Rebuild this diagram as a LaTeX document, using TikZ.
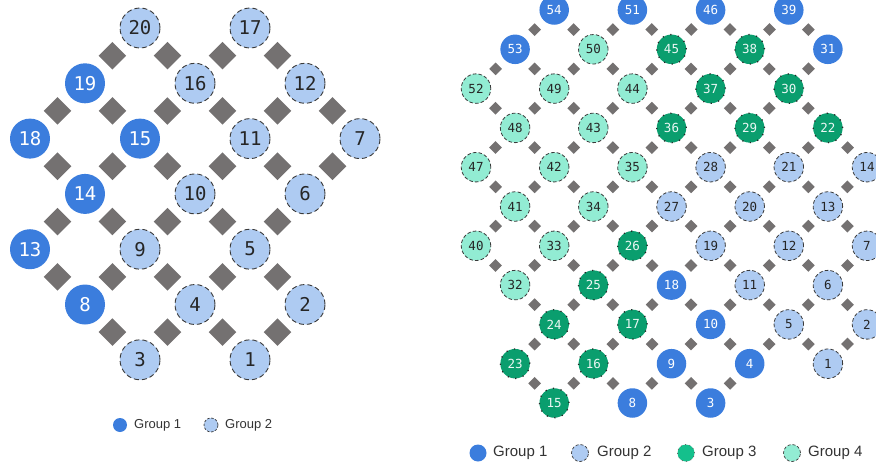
\documentclass[tikz,border=0pt]{standalone}
\usepackage{fontspec}
\setmainfont{Liberation Sans}
\newfontfamily\numfont{DejaVu Sans Mono}
\definecolor{gA}{HTML}{3B7DDD}
\definecolor{gB}{HTML}{AECBF2}
\definecolor{gC}{HTML}{0A9E6E}
\definecolor{gCleg}{HTML}{14C08C}
\definecolor{gD}{HTML}{92ECD3}
\definecolor{dia}{HTML}{747171}
\definecolor{rim}{HTML}{3A3A3A}
\definecolor{txt}{HTML}{333333}
\begin{document}
\begin{tikzpicture}[x=1pt,y=-1pt,
  Lnode/.style={circle, minimum size=40pt, inner sep=0pt, font=\numfont\fontsize{19}{19}\selectfont},
  LgA/.style={Lnode, fill=gA, text=white},
  LgB/.style={Lnode, fill=gB, draw=rim, dash pattern=on 5pt off 3pt, line width=0.9pt, text=black!85},
  Ldia/.style={fill=dia, minimum size=19.5pt, inner sep=0pt, rotate=45},
  Rnode/.style={circle, minimum size=29.5pt, inner sep=0pt, font=\numfont\fontsize{12.5}{12.5}\selectfont},
  RgA/.style={Rnode, fill=gA, text=white},
  RgB/.style={Rnode, fill=gB, draw=rim, dash pattern=on 3.5pt off 2.2pt, line width=0.8pt, text=black!85},
  RgC/.style={Rnode, fill=gC, draw=black!85, dash pattern=on 1.2pt off 6.52pt, line width=1.3pt, text=white!92!gC},
  RgD/.style={Rnode, fill=gD, draw=rim, dash pattern=on 3.5pt off 2.2pt, line width=0.8pt, text=black!85},
  Rdia/.style={fill=dia, minimum size=9pt, inner sep=0pt, rotate=45},
  legtxt/.style={anchor=west, inner sep=0pt, text=txt},
]
\useasboundingbox (0,0) rectangle (876,463);
\clip (0,0) rectangle (876,463);
% ---------- left lattice ----------
\foreach \a/\b/\n/\g in {
  2/0/20/LgB, 4/0/17/LgB,
  1/1/19/LgA, 3/1/16/LgB, 5/1/12/LgB,
  0/2/18/LgA, 2/2/15/LgA, 4/2/11/LgB, 6/2/7/LgB,
  1/3/14/LgA, 3/3/10/LgB, 5/3/6/LgB,
  0/4/13/LgA, 2/4/9/LgB, 4/4/5/LgB,
  1/5/8/LgA, 3/5/4/LgB, 5/5/2/LgB,
  2/6/3/LgB, 4/6/1/LgB}
  \node[\g] (L\n) at ({30+55*\a},{28+55.3*\b}) {\n};
\foreach \p/\q in {
  20/19, 20/16, 17/16, 17/12,
  19/18, 19/15, 16/15, 16/11, 12/11, 12/7,
  18/14, 15/14, 15/10, 11/10, 11/6, 7/6,
  14/13, 14/9, 10/9, 10/5, 6/5,
  13/8, 9/8, 9/4, 5/4, 5/2,
  8/3, 4/3, 4/1, 2/1}
  \path (L\p) -- node[Ldia]{} (L\q);
% ---------- right lattice ----------
\foreach \a/\b/\n/\g in {
  2/0/54/RgA, 4/0/51/RgA, 6/0/46/RgA, 8/0/39/RgA,
  1/1/53/RgA, 3/1/50/RgD, 5/1/45/RgC, 7/1/38/RgC, 9/1/31/RgA,
  0/2/52/RgD, 2/2/49/RgD, 4/2/44/RgD, 6/2/37/RgC, 8/2/30/RgC,
  1/3/48/RgD, 3/3/43/RgD, 5/3/36/RgC, 7/3/29/RgC, 9/3/22/RgC,
  0/4/47/RgD, 2/4/42/RgD, 4/4/35/RgD, 6/4/28/RgB, 8/4/21/RgB, 10/4/14/RgB,
  1/5/41/RgD, 3/5/34/RgD, 5/5/27/RgB, 7/5/20/RgB, 9/5/13/RgB,
  0/6/40/RgD, 2/6/33/RgD, 4/6/26/RgC, 6/6/19/RgB, 8/6/12/RgB, 10/6/7/RgB,
  1/7/32/RgD, 3/7/25/RgC, 5/7/18/RgA, 7/7/11/RgB, 9/7/6/RgB,
  2/8/24/RgC, 4/8/17/RgC, 6/8/10/RgA, 8/8/5/RgB, 10/8/2/RgB,
  1/9/23/RgC, 3/9/16/RgC, 5/9/9/RgA, 7/9/4/RgA, 9/9/1/RgB,
  2/10/15/RgC, 4/10/8/RgA, 6/10/3/RgA}
  \node[\g] (R\n) at ({476+39.1*\a},{10+39.3*\b}) {\n};
\foreach \p/\q in {
  54/53, 54/50, 51/50, 51/45, 46/45, 46/38, 39/38, 39/31,
  53/52, 53/49, 50/49, 50/44, 45/44, 45/37, 38/37, 38/30, 31/30,
  52/48, 49/48, 49/43, 44/43, 44/36, 37/36, 37/29, 30/29, 30/22,
  48/47, 48/42, 43/42, 43/35, 36/35, 36/28, 29/28, 29/21, 22/21, 22/14,
  47/41, 42/41, 42/34, 35/34, 35/27, 28/27, 28/20, 21/20, 21/13, 14/13,
  41/40, 41/33, 34/33, 34/26, 27/26, 27/19, 20/19, 20/12, 13/12, 13/7,
  40/32, 33/32, 33/25, 26/25, 26/18, 19/18, 19/11, 12/11, 12/6, 7/6,
  32/24, 25/24, 25/17, 18/17, 18/10, 11/10, 11/5, 6/5, 6/2,
  24/23, 24/16, 17/16, 17/9, 10/9, 10/4, 5/4, 5/1, 2/1,
  23/15, 16/15, 16/8, 9/8, 9/3, 4/3}
  \path (R\p) -- node[Rdia]{} (R\q);
% ---------- left legend ----------
\node[circle, fill=gA, minimum size=14pt, inner sep=0pt] (la1) at (120,425) {};
\node[legtxt, font=\fontsize{13}{13}\selectfont] (lb1) at (134,425) {Group 1};
\node[circle, fill=gB, draw=rim, dash pattern=on 2.5pt off 1.6pt, line width=0.7pt, minimum size=14pt, inner sep=0pt] (la2) at (211,425) {};
\node[legtxt, font=\fontsize{13}{13}\selectfont] (lb2) at (225,425) {Group 2};
% ---------- right legend ----------
\node[circle, fill=gA, minimum size=17pt, inner sep=0pt] (ra1) at (478,453) {};
\node[legtxt, font=\fontsize{15}{15}\selectfont] (rb1) at (493,453) {Group 1};
\node[circle, fill=gB, draw=rim, dash pattern=on 3pt off 1.9pt, line width=0.7pt, minimum size=17pt, inner sep=0pt] (ra2) at (580,453) {};
\node[legtxt, font=\fontsize{15}{15}\selectfont] (rb2) at (597,453) {Group 2};
\node[circle, fill=gCleg, minimum size=17pt, inner sep=0pt, draw=black!60, dash pattern=on 0.8pt off 3.65pt, line width=0.8pt] (ra3) at (686,453) {};
\node[legtxt, font=\fontsize{15}{15}\selectfont] (rb3) at (702,453) {Group 3};
\node[circle, fill=gD, draw=rim, dash pattern=on 3pt off 1.9pt, line width=0.7pt, minimum size=17pt, inner sep=0pt] (ra4) at (792,453) {};
\node[legtxt, font=\fontsize{15}{15}\selectfont] (rb4) at (808,453) {Group 4};
\end{tikzpicture}
\end{document}
